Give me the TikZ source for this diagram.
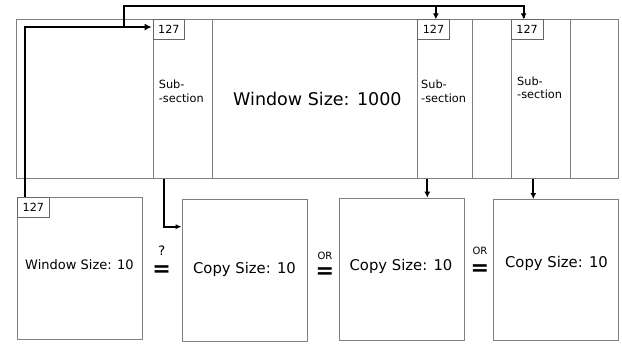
\documentclass[tikz,border=0pt]{standalone}
\usepackage{fontspec}
\setmainfont{DejaVu Sans}
\usetikzlibrary{arrows.meta,calc}
\begin{document}
\begin{tikzpicture}[x=1pt,y=-1pt,
  box/.style={draw=black!50,line width=0.8pt,inner sep=0pt,anchor=north west},
  lbl/.style={draw=black!60,line width=0.7pt,inner sep=0pt,anchor=north west,minimum width=31.6pt,minimum height=20pt,font=\fontsize{11.2}{12}\selectfont},
  subtxt/.style={anchor=west,align=left,inner sep=0pt,font=\fontsize{11.3}{13.5}\selectfont},
  wire/.style={line width=1.7pt,black},
  arr/.style={wire,-{Latex[length=7pt,width=7pt]}},
  eq/.style={font=\fontsize{17}{18}\selectfont\bfseries,inner sep=0pt,xscale=1.3,yscale=-1.3},
  small/.style={font=\fontsize{10}{11}\selectfont,inner sep=0pt}]
\useasboundingbox (0,0) rectangle (622,345);
% top window
\node[box,minimum width=602.6pt,minimum height=158.4pt,font=\fontsize{17.5}{20}\selectfont] (win) at (15.7,19.3) {Window Size: 1000};
\node[box,minimum width=59.6pt,minimum height=158.4pt] (sub1) at (152.7,19.3) {};
\node[box,minimum width=55pt,minimum height=158.4pt] (sub2) at (417.3,19.3) {};
\node[box,minimum width=58.7pt,minimum height=158.4pt] (sub3) at (511,19.3) {};
\node[lbl] (l1) at (152.7,19.3) {127};
\node[lbl] (l2) at (417.3,19.3) {127};
\node[lbl] (l3) at (511,19.3) {127};
\node[subtxt] (t1) at (158.7,91.5) {Sub-\\-section};
\node[subtxt] (t2) at (421,91.5) {Sub-\\-section};
\node[subtxt] (t3) at (517,88) {Sub-\\-section};
% bottom boxes
\node[box,minimum width=125.6pt,minimum height=142.3pt] (w10) at (16.7,196.7) {};
\node[font=\fontsize{13}{14}\selectfont,inner sep=0pt] (w10t) at (79.5,264.3) {Window Size: 10};
\node[lbl,minimum width=32.6pt] (l0) at (16.7,196.7) {127};
\node[box,minimum width=125.6pt,minimum height=142pt] (c1) at (181.7,198.7) {};
\node[box,minimum width=125pt,minimum height=142.3pt] (c2) at (338.7,197.7) {};
\node[box,minimum width=125pt,minimum height=141pt] (c3) at (493.3,199) {};
\node[font=\fontsize{14.8}{16}\selectfont,inner sep=0pt] (c1t) at (244.5,269.3) {Copy Size: 10};
\node[font=\fontsize{14.8}{16}\selectfont,inner sep=0pt] (c2t) at (401,266) {Copy Size: 10};
\node[font=\fontsize{14.8}{16}\selectfont,inner sep=0pt] (c3t) at (556.5,263.3) {Copy Size: 10};
% equals
\node[eq] (e1) at (161.7,268) {=};
\node[font=\fontsize{13}{14}\selectfont,inner sep=0pt] (q1) at (161.7,251) {?};
\node[eq] (e2) at (325,270) {=};
\node[small] (o2) at (325,255.5) {OR};
\node[eq] (e3) at (480,267) {=};
\node[small] (o3) at (480,251.2) {OR};
% connectors
\coordinate (j1) at (123.7,26.7);
\coordinate (top) at (123.7,6);
\draw[arr] ($(l0.north west)+(8.3,0)$) |- ($(l1.west)+(-1,-2.6)$);
\draw[wire] (j1) -- (top) -| ($(l3.north)+(-3.5,-1)$);
\draw[arr,-{Latex[length=6pt,width=6pt]}] (top -| {$(l2.north)+(2.4,0)$}) -- ($(l2.north)+(2.4,0)$);
\draw[arr,-{Latex[length=6pt,width=6pt]}] ($(l3.north)+(-3.5,-3)$) -- ($(l3.north)+(-3.5,0)$);
\draw[arr,-{Latex[length=6pt,width=5pt]}] ($(sub1.south west)+(11.6,0)$) |- ($(c1.north west)+(0,28)$);
\draw[arr,-{Latex[length=6pt,width=6pt]}] ($(sub2.south west)+(10,0)$) -- ($(c2.north west)+(88.6,0)$);
\draw[arr,-{Latex[length=6pt,width=6pt]}] ($(sub3.south west)+(22.3,0)$) -- ($(c3.north west)+(40,0)$);
\end{tikzpicture}
\end{document}
